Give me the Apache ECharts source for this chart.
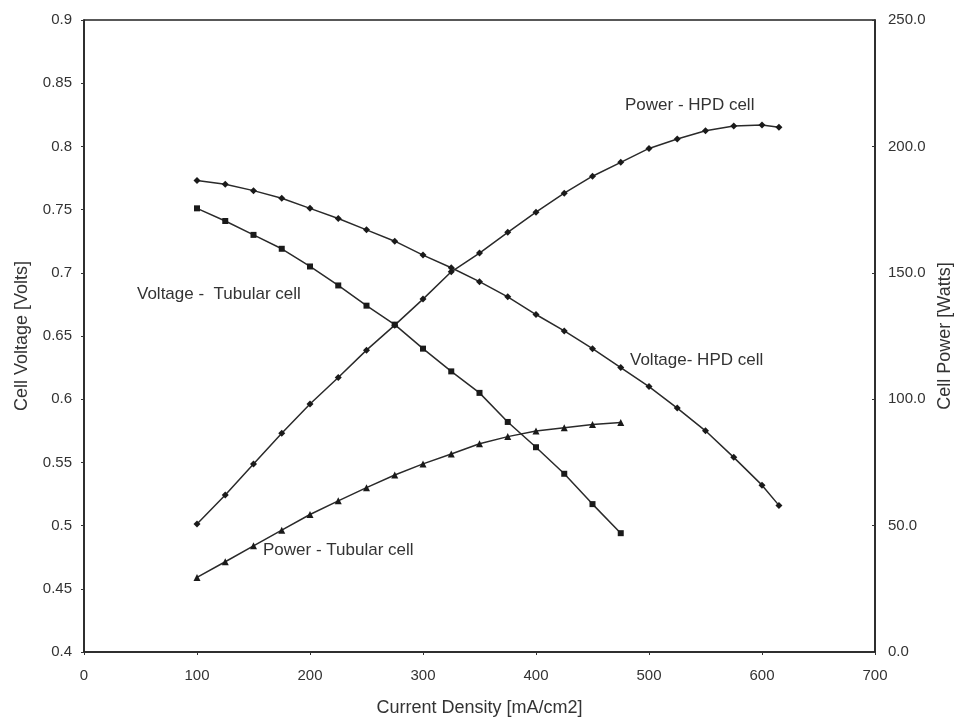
<!DOCTYPE html>
<html>
<head>
<meta charset="utf-8">
<script src="https://cdn.jsdelivr.net/npm/echarts@6/dist/echarts.min.js"></script>
<style>
  html, body { margin: 0; padding: 0; background: #fff; }
  #chart { width: 958px; height: 720px; }
</style>
</head>
<body>
<div id="chart"></div>
<script>
// Current density steps [mA/cm2]
const densityTubular = [100, 125, 150, 175, 200, 225, 250, 275, 300, 325, 350, 375, 400, 425, 450, 475];
const densityHPD = [100, 125, 150, 175, 200, 225, 250, 275, 300, 325, 350, 375, 400, 425, 450, 475, 500, 525, 550, 575, 600, 615];

// Cell voltage [V]
const voltageTubular = [0.751, 0.741, 0.730, 0.719, 0.705, 0.690, 0.674, 0.659, 0.640, 0.622, 0.605, 0.582, 0.562, 0.541, 0.517, 0.494];
const voltageHPD = [0.773, 0.770, 0.765, 0.759, 0.751, 0.743, 0.734, 0.725, 0.714, 0.704, 0.693, 0.681, 0.667, 0.654, 0.640, 0.625, 0.610, 0.593, 0.575, 0.554, 0.532, 0.516];

// Cell power [W]
const powerTubular = [29.5, 35.7, 42.0, 48.2, 54.4, 59.8, 65.0, 70.0, 74.4, 78.3, 82.4, 85.2, 87.4, 88.7, 90.0, 90.8];
const powerHPD = [50.6, 62.1, 74.4, 86.5, 98.1, 108.6, 119.4, 129.3, 139.6, 150.4, 157.8, 166.0, 174.0, 181.5, 188.2, 193.7, 199.2, 202.9, 206.2, 208.1, 208.5, 207.6];

const voltageTicks = [0.4, 0.45, 0.5, 0.55, 0.6, 0.65, 0.7, 0.75, 0.8, 0.85, 0.9];

const ink = '#1a1a1a';
const text = '#333';
const font = 'Liberation Sans, Arial, sans-serif';

function pairs(xs, ys) { return xs.map((x, i) => [x, ys[i]]); }

function curve(name, xs, ys, symbol, size, yIndex) {
  return {
    name, type: 'line', yAxisIndex: yIndex,
    data: pairs(xs, ys),
    symbol, symbolSize: size,
    lineStyle: { color: '#2a2a2a', width: 1.5 },
    itemStyle: { color: ink },
    animation: false
  };
}

const chart = echarts.init(document.getElementById('chart'), null, { renderer: 'canvas' });
chart.setOption({
  backgroundColor: '#fff',
  grid: {
    left: 84, right: 83, top: 20, bottom: 68,
    outerBoundsMode: 'none', containLabel: false,
    show: true, borderColor: '#222', borderWidth: 1.5, backgroundColor: 'transparent'
  },
  xAxis: {
    type: 'value', min: 0, max: 700, interval: 100,
    name: 'Current Density [mA/cm2]', nameLocation: 'middle', nameGap: 47,
    nameTextStyle: { fontFamily: font, fontSize: 18, color: text },
    axisLine: { show: true, lineStyle: { color: '#222', width: 1.5 } },
    axisTick: { show: true, length: 3, lineStyle: { color: '#333' } },
    axisLabel: { fontFamily: font, fontSize: 15, color: text, margin: 16 },
    splitLine: { show: false }
  },
  yAxis: [
    {
      type: 'value', min: 0.4, max: 0.9, interval: 0.05,
      name: 'Cell Voltage [Volts]', nameLocation: 'middle', nameGap: 53, nameRotate: 90,
      nameTextStyle: { fontFamily: font, fontSize: 18, color: text },
      axisLine: { show: true, lineStyle: { color: '#222', width: 1.5 } },
      axisTick: { show: true, length: 3, lineStyle: { color: '#333' } },
      axisLabel: {
        fontFamily: font, fontSize: 15, color: text, margin: 12,
        formatter: v => {
          const t = voltageTicks.find(k => Math.abs(k - v) < 1e-6);
          return t === undefined ? '' : String(t);
        }
      },
      splitLine: { show: false }
    },
    {
      type: 'value', min: 0, max: 250, interval: 50, position: 'right',
      name: 'Cell Power [Watts]', nameLocation: 'middle', nameGap: 61, nameRotate: 90,
      nameTextStyle: { fontFamily: font, fontSize: 18, color: text },
      axisLine: { show: true, lineStyle: { color: '#222', width: 1.5 } },
      axisTick: { show: true, inside: true, length: 3, lineStyle: { color: '#333' } },
      axisLabel: { fontFamily: font, fontSize: 15, color: text, margin: 13, formatter: v => v.toFixed(1) },
      splitLine: { show: false }
    }
  ],
  series: [
    curve('Voltage - Tubular cell', densityTubular, voltageTubular, 'rect', 6, 0),
    curve('Voltage - HPD cell', densityHPD, voltageHPD, 'diamond', 7, 0),
    curve('Power - Tubular cell', densityTubular, powerTubular, 'triangle', 7, 1),
    curve('Power - HPD cell', densityHPD, powerHPD, 'diamond', 7, 1)
  ],
  graphic: [
    { type: 'text', left: 137, top: 286, style: { text: 'Voltage -  Tubular cell', font: '17px ' + font, fill: text } },
    { type: 'text', left: 630, top: 352, style: { text: 'Voltage- HPD cell', font: '17px ' + font, fill: text } },
    { type: 'text', left: 625, top: 97, style: { text: 'Power - HPD cell', font: '17px ' + font, fill: text } },
    { type: 'text', left: 263, top: 542, style: { text: 'Power - Tubular cell', font: '17px ' + font, fill: text } }
  ]
});
</script>
</body>
</html>
